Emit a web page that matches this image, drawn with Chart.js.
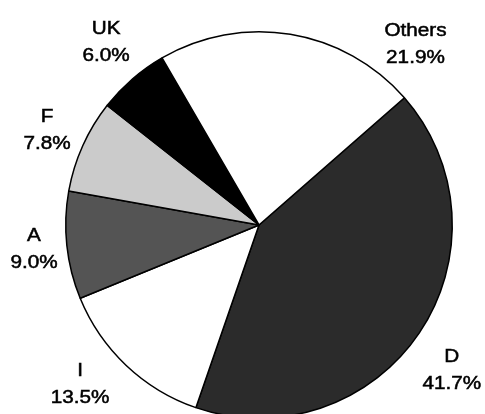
<!DOCTYPE html>
<html>
<head>
<style>
  html, body { margin: 0; padding: 0; background: #fff; overflow: hidden; }
  #wrap { width: 485px; height: 440px; }
</style>
<script src="https://cdn.jsdelivr.net/npm/chart.js@4"></script>
</head>
<body>
<div id="wrap"><canvas id="pieCanvas" width="485" height="440"></canvas></div>
<script>
  // countries, clockwise from the D slice
  var labels = ["D", "I", "A", "F", "UK", "Others"];
  var shares = [41.7, 13.5, 9.0, 7.8, 6.0, 21.9];
  var shareText = ["41.7%", "13.5%", "9.0%", "7.8%", "6.0%", "21.9%"];
  var colours = ["#2b2b2b", "#ffffff", "#545454", "#cbcbcb", "#000000", "#ffffff"];
  // small nudges so the labels sit where the original has them
  var labelTurn = [3, 5, 0, 0, 1, 31.5];
  var labelGap = [48, 46, 33, 39, 45, 46];

  var outerLabels = {
    id: 'outerLabels',
    afterDraw: function (chart) {
      var c = chart.ctx;
      var arcs = chart.getDatasetMeta(0).data;
      c.save();
      c.fillStyle = '#000';
      c.strokeStyle = '#000';
      c.lineWidth = 0.5;
      c.font = '18px "Liberation Sans", Arial, sans-serif';
      c.textAlign = 'center';
      c.textBaseline = 'middle';
      arcs.forEach(function (arc, i) {
        var mid = (arc.startAngle + arc.endAngle) / 2 + labelTurn[i] * Math.PI / 180;
        var d = arc.outerRadius + labelGap[i];
        var x = arc.x + Math.cos(mid) * d;
        var y = arc.y + Math.sin(mid) * d;
        c.save();
        c.translate(x, y);
        c.scale(1.15, 1);
        c.fillText(labels[i], 0, -13);
        c.strokeText(labels[i], 0, -13);
        c.fillText(shareText[i], 0, 14);
        c.strokeText(shareText[i], 0, 14);
        c.restore();
      });
      c.restore();
    }
  };

  var ctx = document.getElementById('pieCanvas').getContext('2d');
  var chart = new Chart(ctx, {
    type: 'pie',
    data: {
      labels: labels,
      datasets: [{
        data: shares,
        backgroundColor: colours,
        borderColor: '#000',
        borderWidth: 1.5
      }]
    },
    options: {
      responsive: false,
      animation: false,
      rotation: 48.8,
      layout: { padding: { left: 65, right: 32, top: 31, bottom: 21 } },
      plugins: {
        legend: { display: false },
        tooltip: { enabled: false }
      }
    },
    plugins: [outerLabels]
  });
</script>
</body>
</html>
